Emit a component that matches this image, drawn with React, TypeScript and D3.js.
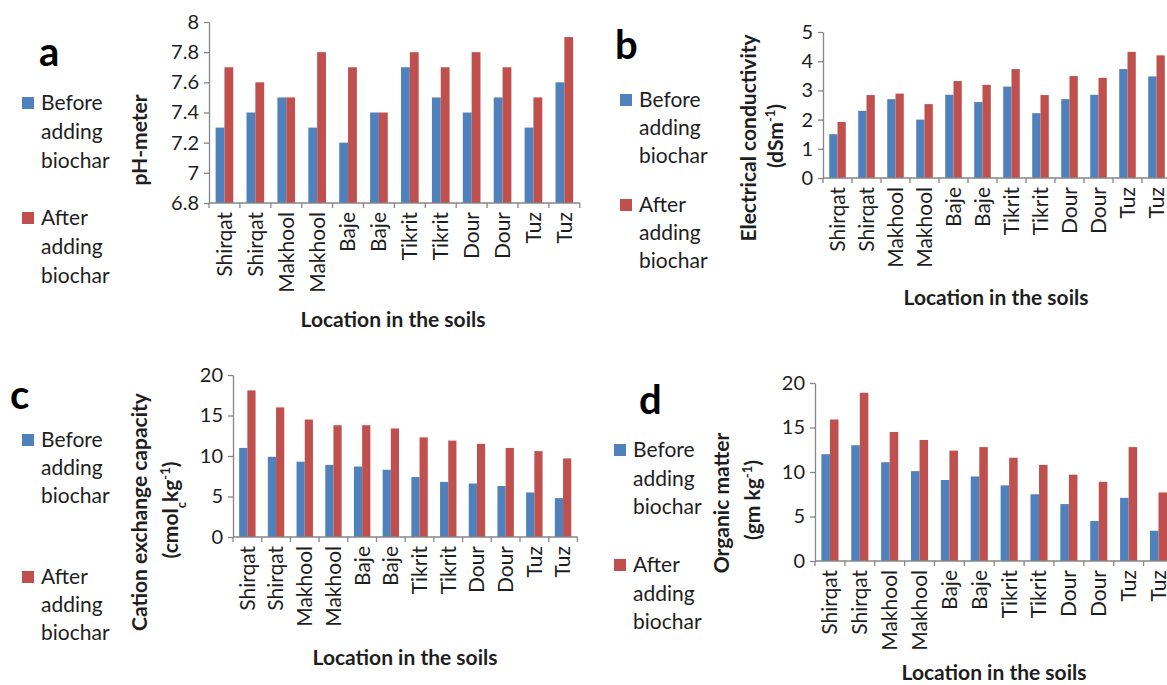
import { useEffect, useRef } from 'react'
import * as d3 from 'd3'

const categories = ['Shirqat', 'Shirqat', 'Makhool', 'Makhool', 'Baje', 'Baje', 'Tikrit', 'Tikrit', 'Dour', 'Dour', 'Tuz', 'Tuz']
const seriesNames = ['Before', 'After']

const phBefore = [7.3, 7.4, 7.5, 7.3, 7.2, 7.4, 7.7, 7.5, 7.4, 7.5, 7.3, 7.6]
const phAfter = [7.7, 7.6, 7.5, 7.8, 7.7, 7.4, 7.8, 7.7, 7.8, 7.7, 7.5, 7.9]
const phTicks = [6.8, 7, 7.2, 7.4, 7.6, 7.8, 8]

const ecBefore = [1.5, 2.3, 2.7, 2.0, 2.85, 2.6, 3.13, 2.22, 2.7, 2.85, 3.73, 3.48]
const ecAfter = [1.92, 2.84, 2.89, 2.53, 3.32, 3.19, 3.73, 2.84, 3.49, 3.43, 4.32, 4.2]
const ecTicks = [0, 1, 2, 3, 4, 5]

const cecBefore = [11.0, 9.9, 9.3, 8.9, 8.7, 8.3, 7.4, 6.8, 6.6, 6.3, 5.5, 4.8]
const cecAfter = [18.1, 16.0, 14.5, 13.8, 13.8, 13.4, 12.3, 11.9, 11.5, 11.0, 10.6, 9.7]
const cecTicks = [0, 5, 10, 15, 20]

const omBefore = [12.0, 13.0, 11.1, 10.1, 9.1, 9.5, 8.5, 7.5, 6.4, 4.5, 7.1, 3.4]
const omAfter = [15.9, 18.9, 14.5, 13.6, 12.4, 12.8, 11.6, 10.8, 9.7, 8.9, 12.8, 7.7]
const omTicks = [0, 5, 10, 15, 20]

const BLUE = '#4f81bd'
const RED = '#c0504d'
const AXIS = '#868686'
const TEXT = '#1e1e1e'
const FONT = 'Lato, "Open Sans", sans-serif'

type Part = { t: string; sup?: boolean; sub?: boolean }

function drawPanel(svg: any, cfg: any) {
  const g = svg.append('g')
  const x = d3.scaleBand<number>()
    .domain(d3.range(categories.length))
    .range([cfg.left, cfg.left + cfg.step * categories.length])
    .padding(0)
  // excel style: gap width 150% between the pairs
  const inner = d3.scaleBand<number>()
    .domain([0, 1])
    .range([0, x.bandwidth()])
    .paddingInner(0)
    .paddingOuter(0.75)
  const y = d3.scaleLinear().domain(cfg.domain).range([cfg.bottom, cfg.top])

  const rows = categories.map((c, i) => ({ i, vals: [cfg.before[i], cfg.after[i]] }))
  const colors = [BLUE, RED]

  // bars
  g.selectAll('g.grp')
    .data(rows)
    .join('g')
    .attr('transform', (d: any) => `translate(${x(d.i)},0)`)
    .selectAll('rect')
    .data((d: any) => d.vals.map((v: number, k: number) => ({ v, k })))
    .join('rect')
    .attr('x', (d: any) => inner(d.k))
    .attr('width', inner.bandwidth())
    .attr('y', (d: any) => y(d.v))
    .attr('height', (d: any) => y(cfg.domain[0]) - y(d.v))
    .attr('fill', (d: any) => colors[d.k])

  // y axis
  const yAxis = g.append('g')
    .attr('transform', `translate(${cfg.left},0)`)
    .call(d3.axisLeft(y).tickValues(cfg.ticks).tickSize(5).tickSizeOuter(0).tickPadding(5)
      .tickFormat((d: any) => String(+(+d).toFixed(1))))
  yAxis.select('.domain').attr('stroke', AXIS).attr('stroke-width', 1.3)
  yAxis.selectAll('.tick line').attr('stroke', AXIS).attr('stroke-width', 1.3)
  yAxis.selectAll('.tick text')
    .attr('fill', TEXT)
    .style('font-family', FONT)
    .style('font-size', '20px')

  // x axis
  const xEnd = cfg.left + cfg.step * categories.length
  g.append('line')
    .attr('x1', cfg.left).attr('x2', xEnd)
    .attr('y1', cfg.bottom).attr('y2', cfg.bottom)
    .attr('stroke', AXIS).attr('stroke-width', 1.3)
  g.selectAll('line.xt')
    .data(d3.range(categories.length + 1))
    .join('line')
    .attr('x1', (i: number) => (i < categories.length ? x(i) : xEnd))
    .attr('x2', (i: number) => (i < categories.length ? x(i) : xEnd))
    .attr('y1', cfg.bottom).attr('y2', cfg.bottom + 5)
    .attr('stroke', AXIS).attr('stroke-width', 1.3)

  // category labels
  g.selectAll('text.cat')
    .data(categories)
    .join('text')
    .attr('transform', (d: string, i: number) =>
      `translate(${(x(i) as number) + x.bandwidth() / 2},${cfg.bottom + 9}) rotate(-90)`)
    .attr('text-anchor', 'end')
    .attr('dy', '0.35em')
    .attr('fill', TEXT)
    .style('font-family', FONT)
    .style('font-size', '21px')
    .text((d: string) => d)

  // x title
  g.append('text')
    .attr('x', cfg.xTitle[0]).attr('y', cfg.xTitle[1])
    .attr('text-anchor', 'middle').attr('dy', '0.35em')
    .attr('fill', TEXT)
    .style('font-family', FONT).style('font-size', '21px').style('font-weight', 700)
    .text('Location in the soils')

  // y title (one or two lines)
  cfg.yTitle.forEach((line: Part[], li: number) => {
    const pos = cfg.yTitlePos[li]
    const t = g.append('text')
      .attr('transform', `translate(${pos[0]},${pos[1]}) rotate(-90)`)
      .attr('text-anchor', 'middle').attr('dy', '0.35em')
      .attr('fill', TEXT)
      .style('font-family', FONT).style('font-size', '21px').style('font-weight', 700)
    line.forEach((p) => {
      const s = t.append('tspan').text(p.t)
      if (p.sup) s.attr('baseline-shift', 'super').style('font-size', '13px')
      if (p.sub) s.attr('baseline-shift', 'sub').style('font-size', '13px')
    })
  })

  // panel letter
  g.append('text')
    .attr('x', cfg.letter[0]).attr('y', cfg.letter[1])
    .attr('fill', '#000')
    .style('font-family', FONT).style('font-size', '40px').style('font-weight', 700)
    .text(cfg.letterText)

  // legend
  seriesNames.forEach((word, k) => {
    const top = cfg.legend[k]
    g.append('rect')
      .attr('x', cfg.legendX).attr('y', top - 6)
      .attr('width', 12).attr('height', 12)
      .attr('fill', colors[k])
    const lines = [word, 'adding', 'biochar']
    lines.forEach((ln, j) => {
      g.append('text')
        .attr('x', cfg.legendX + 19).attr('y', top + j * cfg.legendStep)
        .attr('dy', '0.35em')
        .attr('fill', TEXT)
        .style('font-family', FONT).style('font-size', '21px')
        .text(ln)
    })
  })
}

export default function App() {
  const ref = useRef<SVGSVGElement>(null)

  useEffect(() => {
    const svg = d3.select(ref.current)
    svg.selectAll('*').remove()

    drawPanel(svg, {
      before: phBefore, after: phAfter, ticks: phTicks, domain: [6.8, 8],
      left: 209, step: 30.9, top: 22, bottom: 203,
      xTitle: [393, 320],
      yTitle: [[{ t: 'pH-meter' }]], yTitlePos: [[140, 140]],
      letter: [39, 66], letterText: 'a',
      legendX: 22, legend: [103, 218], legendStep: 29
    })
    drawPanel(svg, {
      before: ecBefore, after: ecAfter, ticks: ecTicks, domain: [0, 5],
      left: 823, step: 29, top: 32, bottom: 178,
      xTitle: [996, 298],
      yTitle: [[{ t: 'Electrical conductivity' }], [{ t: '(dSm' }, { t: '-1', sup: true }, { t: ')' }]],
      yTitlePos: [[749, 138], [776, 136]],
      letter: [615, 59], letterText: 'b',
      legendX: 620, legend: [100, 205], legendStep: 28
    })
    drawPanel(svg, {
      before: cecBefore, after: cecAfter, ticks: cecTicks, domain: [0, 20],
      left: 233, step: 28.7, top: 375, bottom: 537,
      xTitle: [405, 658],
      yTitle: [[{ t: 'Cation exchange capacity' }],
        [{ t: '(cmol' }, { t: 'c', sub: true }, { t: 'kg' }, { t: '-1', sup: true }, { t: ')' }]],
      yTitlePos: [[140, 512], [171, 510]],
      letter: [10, 409], letterText: 'c',
      legendX: 22, legend: [440, 577], legendStep: 28
    })
    drawPanel(svg, {
      before: omBefore, after: omAfter, ticks: omTicks, domain: [0, 20],
      left: 815, step: 29.87, top: 383, bottom: 561,
      xTitle: [994, 673],
      yTitle: [[{ t: 'Organic matter' }], [{ t: '(gm kg' }, { t: '-1', sup: true }, { t: ')' }]],
      yTitlePos: [[722, 503], [753, 500]],
      letter: [639, 414], letterText: 'd',
      legendX: 614, legend: [450, 565], legendStep: 28.5
    })
  }, [])

  return (
    <svg
      ref={ref}
      width={1167}
      height={685}
      style={{ position: 'absolute', left: 0, top: 0, background: '#fff' }}
    />
  )
}
